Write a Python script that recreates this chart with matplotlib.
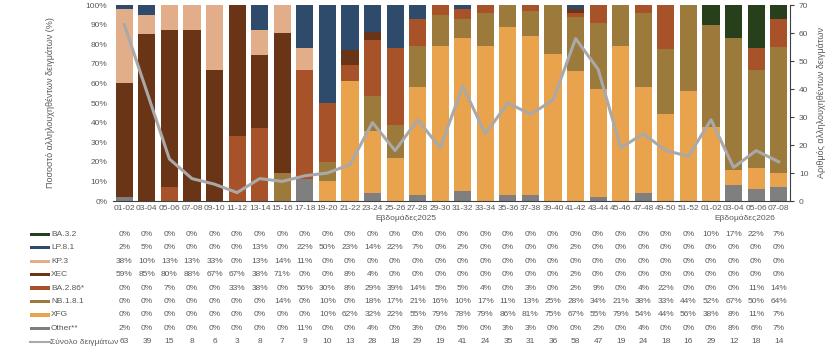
import numpy as np
import matplotlib
matplotlib.use('Agg')
import matplotlib.pyplot as plt
from matplotlib.transforms import blended_transform_factory
from matplotlib.patches import Rectangle
from matplotlib.lines import Line2D

plt.rcParams['font.family'] = ['Liberation Sans', 'DejaVu Sans']

# εβδομάδες (26 για το 2025, 4 για το 2026)
weeks = ['01-02', '03-04', '05-06', '07-08', '09-10', '11-12', '13-14', '15-16',
         '17-18', '19-20', '21-22', '23-24', '25-26', '27-28', '29-30', '31-32',
         '33-34', '35-36', '37-38', '39-40', '41-42', '43-44', '45-46', '47-48',
         '49-50', '51-52', '01-02', '03-04', '05-06', '07-08']

# ποσοστά ανά παραλλαγή (%)
ba32 = [0, 0, 0, 0, 0, 0, 0, 0, 0, 0, 0, 0, 0, 0, 0, 0, 0, 0, 0, 0, 0, 0, 0, 0, 0, 0, 10, 17, 22, 7]
lp81 = [2, 5, 0, 0, 0, 0, 13, 0, 22, 50, 23, 14, 22, 7, 0, 2, 0, 0, 0, 0, 2, 0, 0, 0, 0, 0, 0, 0, 0, 0]
kp3 = [38, 10, 13, 13, 33, 0, 13, 14, 11, 0, 0, 0, 0, 0, 0, 0, 0, 0, 0, 0, 0, 0, 0, 0, 0, 0, 0, 0, 0, 0]
xec = [59, 85, 80, 88, 67, 67, 38, 71, 0, 0, 8, 4, 0, 0, 0, 0, 0, 0, 0, 0, 2, 0, 0, 0, 0, 0, 0, 0, 0, 0]
ba286 = [0, 0, 7, 0, 0, 33, 38, 0, 56, 30, 8, 29, 39, 14, 5, 5, 4, 0, 3, 0, 2, 9, 0, 4, 22, 0, 0, 0, 11, 14]
nb181 = [0, 0, 0, 0, 0, 0, 0, 14, 0, 10, 0, 18, 17, 21, 16, 10, 17, 11, 13, 25, 28, 34, 21, 38, 33, 44, 52, 67, 50, 64]
xfg = [0, 0, 0, 0, 0, 0, 0, 0, 0, 10, 62, 32, 22, 55, 79, 78, 79, 86, 81, 75, 67, 55, 79, 54, 44, 56, 38, 8, 11, 7]
other = [2, 0, 0, 0, 0, 0, 0, 0, 11, 0, 0, 4, 0, 3, 0, 5, 0, 3, 3, 0, 0, 2, 0, 4, 0, 0, 0, 8, 6, 7]
totals = [63, 39, 15, 8, 6, 3, 8, 7, 9, 10, 13, 28, 18, 29, 19, 41, 24, 35, 31, 36, 58, 47, 19, 24, 18, 16, 29, 12, 18, 14]

# σειρά στοίβαξης από κάτω προς τα πάνω
stack_names = ['Other**', 'XFG', 'NB.1.8.1', 'BA.2.86*', 'XEC', 'KP.3', 'LP.8.1', 'BA.3.2']
stack_vals = [other, xfg, nb181, ba286, xec, kp3, lp81, ba32]
colors = {'BA.3.2': '#27401b', 'LP.8.1': '#2f4b6c', 'KP.3': '#e1ae89', 'XEC': '#6a3416',
          'BA.2.86*': '#a8522a', 'NB.1.8.1': '#9b7a3b', 'XFG': '#e9a34d', 'Other**': '#7f7f7f'}
line_color = '#a9a9a9'
txt = '#595959'

W, H = 825, 354
fig = plt.figure(figsize=(W / 100, H / 100), dpi=100)
ax = fig.add_axes([113 / W, 1 - 201 / H, (790 - 113) / W, 196 / H])

x = np.arange(len(weeks))
# τα ποσοστά είναι στρογγυλεμένα, κανονικοποίηση ώστε κάθε στήλη = 100%
col_sum = np.sum(np.array(stack_vals, dtype=float), axis=0)
bottom = np.zeros(len(weeks))
for name, vals in zip(stack_names, stack_vals):
    v = np.array(vals, dtype=float) / col_sum * 100
    ax.bar(x, v, bottom=bottom, width=0.76, color=colors[name], linewidth=0)
    bottom += v

ax.set_xlim(-0.5, len(weeks) - 0.5)
ax.set_ylim(0, 100)
ax.set_yticks(range(0, 101, 10))
ax.set_yticklabels(['%d%%' % t for t in range(0, 101, 10)])
ax.set_xticks(x)
ax.set_xticklabels(weeks)
ax.tick_params(axis='x', length=0, labelsize=6, colors=txt, pad=3)
ax.tick_params(axis='y', length=0, labelsize=6, colors=txt, pad=4)
for s in ['top', 'left', 'right']:
    ax.spines[s].set_visible(False)
ax.spines['bottom'].set_color('#404040')
ax.spines['bottom'].set_linewidth(0.8)
ax.set_ylabel('Ποσοστό αλληλουχηθέντων δειγμάτων (%)', fontsize=6.5, color=txt, labelpad=22)

ax2 = ax.twinx()
ax2.plot(x, totals, color=line_color, linewidth=2.2)
ax2.set_ylim(0, 70)
ax2.set_yticks(range(0, 71, 10))
ax2.tick_params(axis='y', labelsize=6, colors=txt, length=3, width=0.8)
ax2.tick_params(axis='y', color='#404040')
for s in ['top', 'left', 'bottom']:
    ax2.spines[s].set_visible(False)
ax2.spines['right'].set_color('#404040')
ax2.spines['right'].set_linewidth(0.8)
ax2.set_ylabel('Αριθμός αλληλουχηθέντων δειγμάτων', fontsize=6.5, color=txt, labelpad=6)

# τίτλοι ετών
tr = blended_transform_factory(ax.transData, fig.transFigure)
fig.text(12.5, 1 - 218 / H, 'Εβδομάδες2025', transform=tr, ha='center', va='center', fontsize=6, color=txt)
fig.text(27.5, 1 - 218 / H, 'Εβδομάδες2026', transform=tr, ha='center', va='center', fontsize=6, color=txt)

# πίνακας δεδομένων
rows = ['BA.3.2', 'LP.8.1', 'KP.3', 'XEC', 'BA.2.86*', 'NB.1.8.1', 'XFG', 'Other**']
row_vals = [ba32, lp81, kp3, xec, ba286, nb181, xfg, other]
y0, dy = 234.3, 13.45
for i, (name, vals) in enumerate(zip(rows, row_vals)):
    yy = 1 - (y0 + i * dy) / H
    fig.patches.append(Rectangle((30 / W, yy - 1.7 / H), 19.5 / W, 3.4 / H,
                                 transform=fig.transFigure, color=colors[name], linewidth=0))
    fig.text(51 / W, yy, name, ha='left', va='center', fontsize=6, color=txt)
    for j, v in enumerate(vals):
        fig.text(j, yy, '%d%%' % v, transform=tr, ha='center', va='center', fontsize=6, color=txt)

yy = 1 - (y0 + 8 * dy) / H
fig.lines.append(Line2D([30 / W, 50 / W], [yy, yy], transform=fig.transFigure,
                        color=line_color, linewidth=1.5))
fig.text(50.5 / W, yy, 'Σύνολο δειγμάτων', ha='left', va='center', fontsize=6, color=txt)
for j, v in enumerate(totals):
    fig.text(j, yy, str(v), transform=tr, ha='center', va='center', fontsize=6, color=txt)

fig.savefig('out.png', dpi=100)
